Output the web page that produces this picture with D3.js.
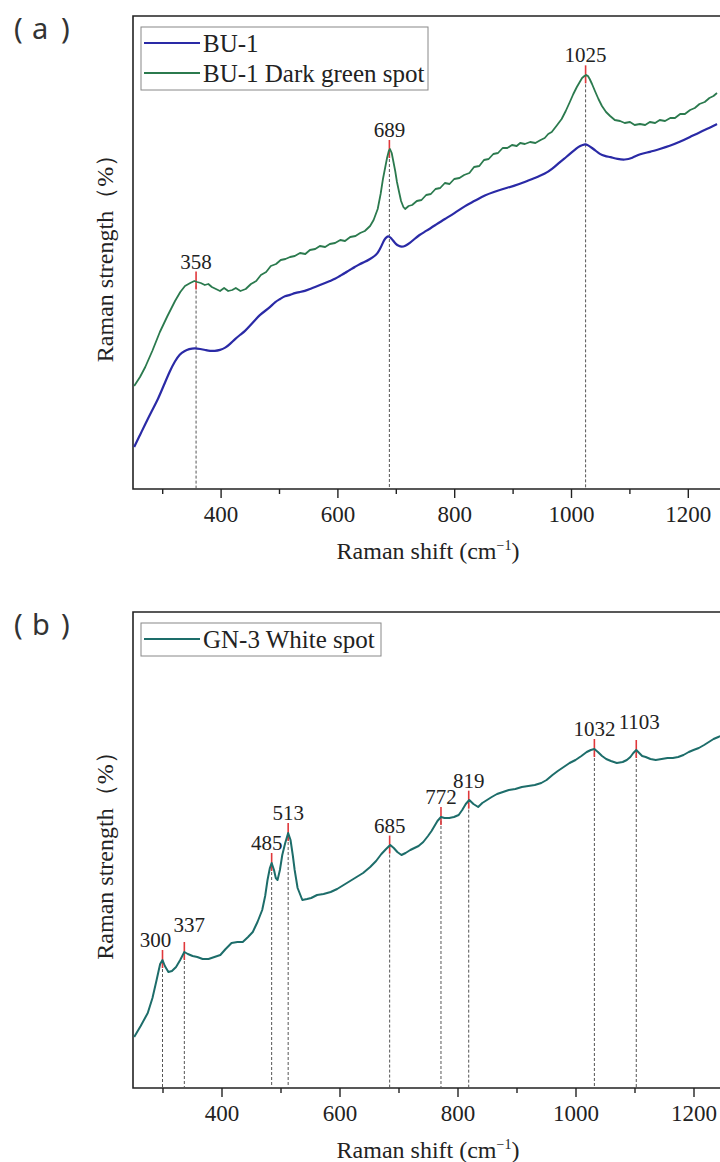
<!DOCTYPE html>
<html>
<head>
<meta charset="utf-8">
<script src="https://cdn.jsdelivr.net/npm/d3@7"></script>
<style>
  body { margin:0; background:#fff; }
  svg { display:block; }
  text { font-family: "Liberation Serif", "Times New Roman", serif; fill:#222; }
  .letter { font-family: "Noto Sans", sans-serif; fill:#333; }
</style>
</head>
<body>
<script>
  // ---- data (Raman shift in cm-1, intensity in arbitrary units) ----
  var xTicks = [400, 600, 800, 1000, 1200];
  var xMinor = [300, 500, 700, 900, 1100];

  // (a) BU-1
  var bu1 = [[252,42],[262,54],[271,65],[282,78],[293,90],[303,104],[313,118],[322,128],[330,135],[338,138],[346,140],[356,141],[365,140],[374,139],[382,138],[390,138],[399,139],[408,141],[416,145],[425,150],[433,154],[442,158],[450,163],[459,169],[467,174],[476,178],[485,182],[493,187],[502,190],[510,193],[519,194],[527,196],[536,197],[544,198],[553,200],[562,202],[570,204],[579,206],[587,208],[596,210],[604,213],[613,216],[621,219],[630,222],[638,225],[647,227],[656,230],[664,233],[669,236],[673,240],[677,245],[680,249],[684,252],[688,253],[692,251],[696,248],[700,245],[705,243],[710,242],[716,243],[724,246],[732,250],[740,254],[752,258],[768,264],[784,270],[801,276],[818,283],[835,288],[853,294],[868,297],[883,300],[902,303],[921,307],[938,311],[955,315],[968,320],[981,327],[992,332],[1002,337],[1010,341],[1015,343],[1020,344],[1024,345],[1029,344],[1036,341],[1043,338],[1049,335],[1058,333],[1067,332],[1080,330],[1092,329],[1105,331],[1118,335],[1135,337],[1152,340],[1169,343],[1186,347],[1204,352],[1221,357],[1237,361],[1250,365]];

  // (a) BU-1 Dark green spot
  var bu1Green = [[252,103],[262,112],[271,122],[283,138],[296,157],[309,173],[322,188],[331,197],[339,203],[348,206],[355,208],[360,207],[366,206],[373,204],[379,205],[385,202],[392,200],[399,198],[406,201],[413,198],[420,199],[426,201],[434,198],[443,200],[452,205],[461,208],[469,214],[478,217],[486,223],[495,225],[503,229],[511,230],[519,232],[527,233],[536,236],[545,235],[553,239],[562,240],[570,243],[579,242],[587,245],[596,246],[605,249],[613,248],[622,252],[631,253],[639,256],[647,258],[656,263],[662,269],[669,280],[674,295],[678,310],[682,322],[685,331],[688,338],[690,340],[693,336],[695,330],[699,318],[702,307],[706,296],[709,288],[713,282],[716,280],[722,283],[728,284],[736,288],[744,289],[752,294],[760,295],[768,300],[776,301],[784,306],[792,305],[800,310],[809,311],[817,314],[826,316],[834,322],[843,323],[851,329],[859,330],[867,335],[875,336],[883,341],[891,341],[899,344],[907,343],[913,346],[921,345],[930,347],[939,346],[948,349],[955,351],[961,355],[967,357],[975,363],[984,370],[991,378],[998,387],[1004,395],[1010,402],[1015,407],[1019,411],[1023,413],[1026,414],[1029,413],[1032,410],[1036,405],[1041,398],[1047,390],[1053,383],[1060,377],[1067,373],[1075,369],[1084,368],[1092,366],[1101,367],[1109,364],[1118,365],[1127,364],[1135,367],[1144,366],[1152,369],[1161,368],[1170,371],[1178,371],[1187,375],[1195,375],[1204,379],[1212,381],[1220,385],[1229,387],[1237,391],[1244,393],[1250,396]];

  // (b) GN-3 White spot
  var gn3 = [[252,51],[263,62],[275,75],[283,90],[290,108],[296,124],[300,128],[304,122],[310,116],[316,117],[323,121],[330,128],[337,136],[343,134],[351,132],[359,131],[368,129],[378,129],[388,131],[398,133],[407,139],[417,145],[427,146],[436,146],[445,151],[453,156],[461,166],[469,178],[474,192],[478,208],[482,220],[485,225],[489,218],[492,210],[495,208],[499,218],[503,233],[508,245],[513,255],[517,248],[521,232],[524,218],[529,200],[537,188],[545,189],[552,190],[562,193],[573,194],[585,196],[596,199],[607,203],[618,207],[629,211],[640,215],[652,221],[662,227],[671,234],[679,239],[686,243],[692,240],[698,236],[705,233],[712,235],[720,238],[727,240],[734,242],[742,246],[750,252],[756,257],[760,261],[766,267],[772,271],[778,270],[786,270],[794,271],[802,273],[808,278],[814,284],[820,288],[827,284],[835,281],[842,285],[850,288],[858,291],[867,294],[877,296],[887,298],[898,299],[909,301],[920,302],[931,303],[942,305],[951,308],[961,313],[970,317],[980,321],[990,325],[1000,328],[1010,332],[1019,336],[1026,338],[1032,339],[1038,336],[1045,332],[1052,329],[1060,327],[1070,325],[1080,326],[1087,328],[1093,331],[1098,335],[1103,338],[1108,335],[1113,332],[1119,331],[1127,329],[1136,328],[1146,329],[1156,330],[1165,330],[1174,331],[1183,333],[1192,336],[1200,338],[1209,340],[1218,343],[1226,346],[1234,349],[1242,351],[1250,353]];

  var peaksA = [358, 689, 1025];
  var peaksB = [300, 337, 485, 513, 685, 772, 819, 1032, 1103];

  // label nudges (layout only)
  var nudge = { 300: [-7, 0], 337: [5, -7], 485: [-5, 0], 1103: [3, -8] };

  var W = 720, H = 1162;
  var svg = d3.select("body").append("svg")
    .attr("width", W)
    .attr("height", H);

  function valueAt(series, cm) {
    var i = d3.bisector(function(d) { return d[0]; }).left(series, cm);
    if (i <= 0) return series[0][1];
    if (i >= series.length) return series[series.length - 1][1];
    var a = series[i - 1], b = series[i];
    return a[1] + (b[1] - a[1]) * (cm - a[0]) / (b[0] - a[0]);
  }

  function drawPanel(p) {
    var x = d3.scaleLinear().domain([250, 1250]).range([133, p.right]);
    var y = d3.scaleLinear().domain(p.yDomain).range([p.bottom, p.top]);
    var g = svg.append("g");

    // panel letter
    var lt = g.append("text").attr("class", "letter")
      .attr("y", p.top + 23).attr("font-size", 29);
    lt.append("tspan").attr("x", 14).text("(");
    lt.append("tspan").attr("x", 32).text(p.letter);
    lt.append("tspan").attr("x", 61).text(")");

    // frame (right side runs off the page)
    g.append("path")
      .attr("d", "M" + (W + 5) + "," + p.top + "H133V" + p.bottom + "H" + (W + 5))
      .attr("fill", "none").attr("stroke", "#222").attr("stroke-width", 1.6);

    // x axis
    var ax = g.append("g").attr("transform", "translate(0," + p.bottom + ")");
    ax.call(d3.axisBottom(x).tickValues(xTicks).tickFormat(d3.format("d"))
      .tickSize(9).tickSizeOuter(0).tickPadding(8));
    ax.select(".domain").remove();
    ax.selectAll("line").attr("stroke", "#222").attr("stroke-width", 1.4);
    ax.selectAll("text").attr("font-size", 23).attr("fill", "#222")
      .style("font-family", '"Liberation Serif", serif');
    var mx = g.append("g").attr("transform", "translate(0," + p.bottom + ")");
    mx.call(d3.axisBottom(x).tickValues(xMinor).tickSize(5).tickFormat(""));
    mx.select(".domain").remove();
    mx.selectAll("line").attr("stroke", "#222").attr("stroke-width", 1.4);

    // axis titles
    var t = g.append("text")
      .attr("x", 428).attr("y", p.bottom + 70)
      .attr("text-anchor", "middle").attr("font-size", 24);
    t.append("tspan").text("Raman shift (cm");
    t.append("tspan").attr("dy", -9).attr("font-size", 14).text("−1");
    t.append("tspan").attr("dy", 9).text(")");

    g.append("text")
      .attr("transform", "translate(113," + ((p.top + p.bottom) / 2) + ") rotate(-90)")
      .attr("text-anchor", "middle").attr("font-size", 24)
      .text("Raman strength（%）");

    // peak markers
    var ps = p.peakSeries;
    p.peaks.forEach(function(cm) {
      var px = x(cm), py = y(valueAt(ps, cm));
      var n = nudge[cm] || [0, 0];
      g.append("line")
        .attr("x1", px).attr("x2", px).attr("y1", py + 4).attr("y2", p.bottom)
        .attr("stroke", "#555").attr("stroke-width", 1).attr("stroke-dasharray", "3,2");
      g.append("line")
        .attr("x1", px).attr("x2", px).attr("y1", py - 10).attr("y2", py + 8)
        .attr("stroke", "#e0383b").attr("stroke-width", 1.6);
      g.append("text")
        .attr("x", px + n[0]).attr("y", py - 13 + n[1])
        .attr("text-anchor", "middle").attr("font-size", 21)
        .text(cm);
    });

    // spectra
    p.series.forEach(function(s) {
      g.append("path")
        .datum(s.data)
        .attr("fill", "none")
        .attr("stroke", s.color)
        .attr("stroke-width", s.width)
        .attr("stroke-linejoin", "round")
        .attr("d", d3.line().curve(s.curve)
          .x(function(d) { return x(d[0]); })
          .y(function(d) { return y(d[1]); }));
    });

    // legend
    var lg = g.append("g");
    lg.append("rect")
      .attr("x", 141).attr("y", p.top + 11)
      .attr("width", p.legendW).attr("height", p.series.length * 30 + 3)
      .attr("fill", "#fff").attr("stroke", "#888").attr("stroke-width", 1);
    p.series.forEach(function(s, i) {
      var ly = p.top + 27 + i * 30;
      lg.append("line")
        .attr("x1", 144).attr("x2", 200).attr("y1", ly).attr("y2", ly)
        .attr("stroke", s.color).attr("stroke-width", 2);
      lg.append("text")
        .attr("x", 203).attr("y", ly + 9)
        .attr("font-size", 25)
        .text(s.name);
    });
  }

  drawPanel({
    letter: "a", top: 16, bottom: 489, right: 717,
    yDomain: [0, 473],
    series: [
      { name: "BU-1", data: bu1, color: "#2a2aa6", width: 2.2, curve: d3.curveBasis },
      { name: "BU-1 Dark green spot", data: bu1Green, color: "#2b7a4e", width: 1.8, curve: d3.curveLinear }
    ],
    peaks: peaksA, peakSeries: bu1Green, legendW: 287
  });

  drawPanel({
    letter: "b", top: 612, bottom: 1088, right: 723,
    yDomain: [0, 476],
    series: [
      { name: "GN-3 White spot", data: gn3, color: "#1d6d6a", width: 2, curve: d3.curveLinear }
    ],
    peaks: peaksB, peakSeries: gn3, legendW: 240
  });
</script>
</body>
</html>
